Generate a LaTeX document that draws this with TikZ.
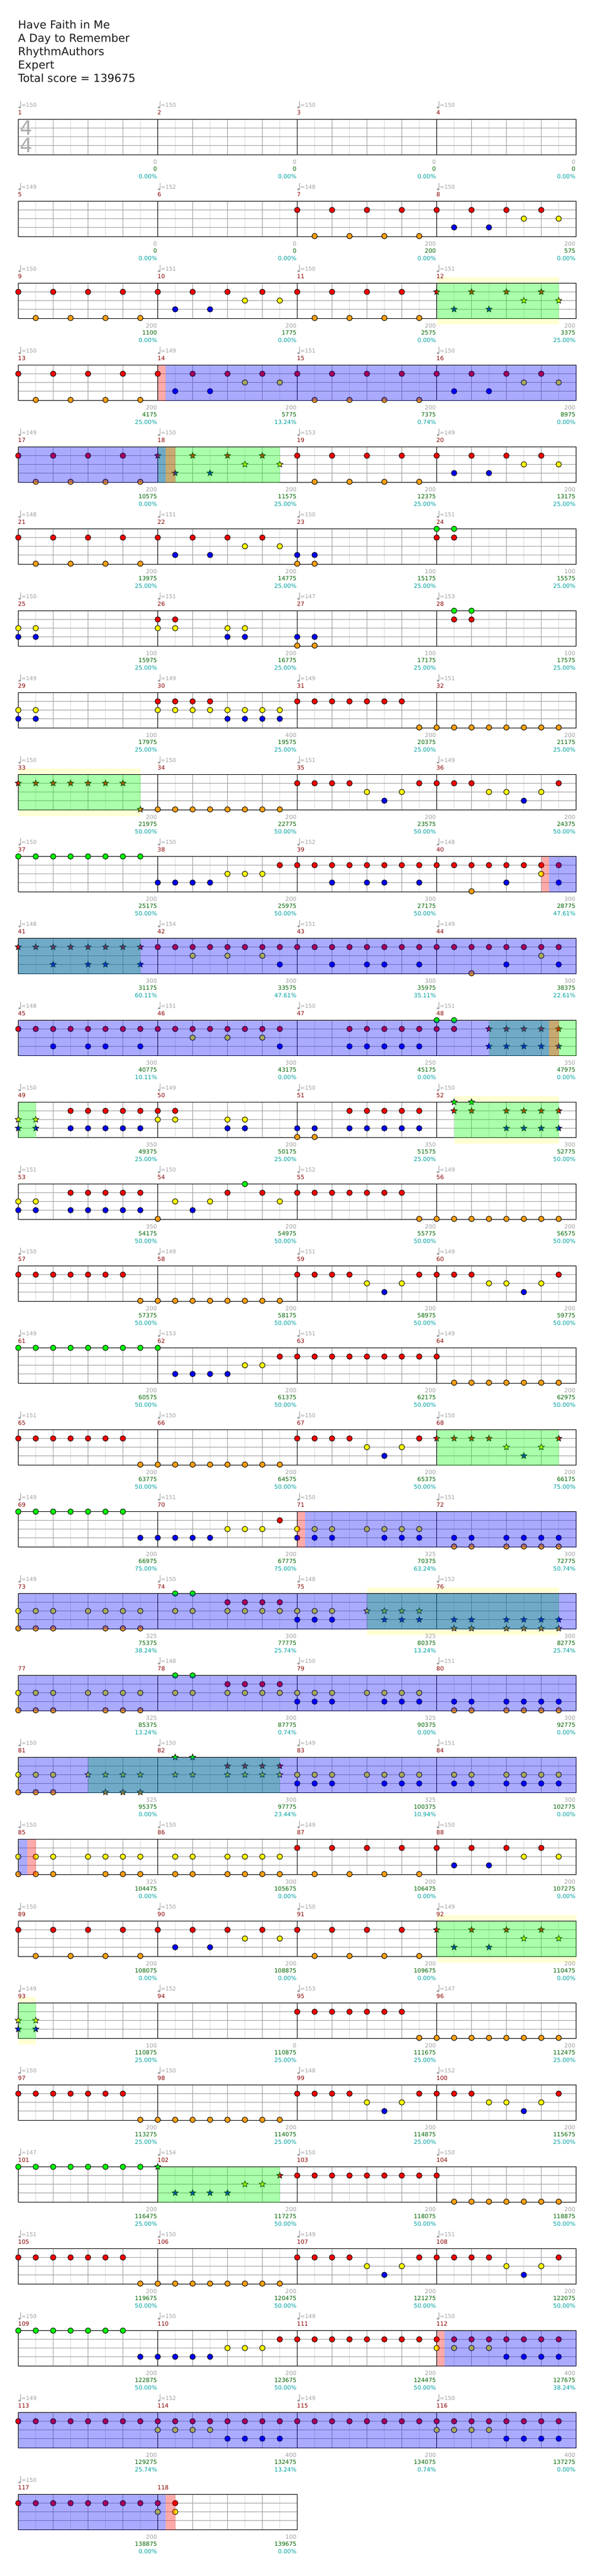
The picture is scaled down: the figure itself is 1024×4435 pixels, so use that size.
\documentclass[tikz,border=0pt]{standalone}
\usepackage{fontspec}
\setmainfont{DejaVu Sans}
\usetikzlibrary{shapes.geometric}

\definecolor{nred}{HTML}{FF0000}
\definecolor{ngreen}{HTML}{00FF00}
\definecolor{nyellow}{HTML}{FFFF00}
\definecolor{nblue}{HTML}{0000FF}
\definecolor{norange}{HTML}{FFA010}
\definecolor{glowfill}{HTML}{FFFFD5}
\definecolor{gridbeat}{HTML}{A0A0A0}
\definecolor{gridhalf}{HTML}{DCDCDC}
\definecolor{textgray}{HTML}{A0A0A0}
\definecolor{textbar}{HTML}{880000}
\definecolor{textscore}{HTML}{006400}
\definecolor{textpct}{HTML}{00A0A0}

\newcommand{\strnred}{15}
\newcommand{\strngreen}{0}
\newcommand{\strnyellow}{30}
\newcommand{\strnblue}{45}
\newcommand{\strnorange}{60}

\tikzset{
  notedot/.style={circle,draw=black,line width=0.9pt,minimum size=9.5pt,inner sep=0pt,outer sep=0pt},
  notestar/.style={star,star points=5,star point ratio=2.3,draw=black,line width=0.8pt,minimum size=11pt,inner sep=0pt,outer sep=0pt},
  smalltext/.style={inner sep=0pt,font=\fontsize{10}{12}\selectfont},
  tempotext/.style={smalltext,anchor=base west,text=textgray,font=\fontsize{9.5}{12}\selectfont},
  bartext/.style={smalltext,anchor=base west,text=textbar},
  ptstext/.style={smalltext,anchor=base east,text=textgray},
  scoretext/.style={smalltext,anchor=base east,text=textscore},
  pcttext/.style={smalltext,anchor=base east,text=textpct},
  timesig/.style={inner sep=0pt,text=black!33,font=\fontsize{34}{34}\selectfont},
  titletext/.style={inner sep=0pt,anchor=north west,align=left,text=black!90,font=\fontsize{19}{23}\selectfont}
}

\newcommand{\chartgrid}[2]{
  \fill[white] (31.5,{205.5+141*#1}) rectangle ({31.5+30*#2},{266.5+141*#1});
  \foreach \k in {1,3,...,#2} \draw[gridhalf,line width=1pt] ({31.5+30*\k},{205.5+141*#1}) -- ++(0,61);
  \foreach \k in {2,4,...,#2} \draw[gridbeat,line width=1pt] ({31.5+30*\k},{205.5+141*#1}) -- ++(0,61);
  \foreach \s in {15,30,45} \draw[gridbeat,line width=1pt] (31.5,{205.5+141*#1+\s}) -- ++({30*#2},0);
  \foreach \k in {8,16,...,#2} \draw[black,line width=1pt] ({31.5+30*\k},{205.5+141*#1}) -- ++(0,61);
  \draw[black,line width=1pt] (31.5,{205.5+141*#1}) rectangle ({31.5+30*#2},{266.5+141*#1});
}

\newcommand{\chartbars}[2]{
  \foreach \c/\tempo/\basepts/\score/\pct in {#2}{
    \pgfmathtruncatemacro{\mm}{4*#1+\c+1}
    \coordinate (b\mm) at ({31.5+240*\c},{205.5+141*#1});
    \coordinate (e\mm) at ({270.5+240*\c},{205.5+141*#1});
    \ifnum\tempo>0
      \fill[textgray] ([shift={(2.2,-20.5)}]b\mm) ellipse [x radius=2.2pt,y radius=1.7pt];
      \draw[textgray,line width=0.8pt] ([shift={(4,-20.5)}]b\mm) -- ++(0,-11);
      \node[tempotext] (tempo\mm) at ([shift={(5.2,-21)}]b\mm) {=\tempo};
    \fi
    \node[bartext] (bar\mm) at ([shift={(-0.5,-7.8)}]b\mm) {\mm};
    \node[ptstext] (pts\mm) at ([shift={(0,76.5)}]e\mm) {\basepts};
    \node[scoretext] (score\mm) at ([shift={(0,89.4)}]e\mm) {\score};
    \node[pcttext] (pct\mm) at ([shift={(0,102.3)}]e\mm) {\pct\%};
  }
}

\newcommand{\chartnotes}[3]{
  \foreach \k in {#3} \node[notedot,fill=#2] (n#1-#2-\k) at ({31.5+30*\k},{205.5+141*#1+\csname str#2\endcsname}) {};
}

\newcommand{\chartstars}[3]{
  \foreach \k in {#3} \node[notestar,fill=#2] (s#1-#2-\k) at ({31.5+30*\k},{205.5+141*#1+\csname str#2\endcsname}) {};
}

\newcommand{\chartband}[4]{
  \fill[#2,opacity=0.3333] ({31.5+30*#3},{205.5+141*#1}) rectangle ({31.5+30*#4},{266.5+141*#1});
}

\newcommand{\chartglow}[3]{
  \fill[glowfill] ({31.5+30*#2},{195+141*#1}) rectangle ({31.5+30*#3},{277+141*#1});
}

\begin{document}
\begin{tikzpicture}[x=1pt,y=-1pt]
  \useasboundingbox (0,0) rectangle (1024,4435);

  \node[titletext] (title) at (31,34.5) {Have Faith in Me\\A Day to Remember\\RhythmAuthors\\Expert\\Total score = 139675};

  \chartgrid{0}{32}
  \node[timesig] (sigtop) at (45,220.5) {4};
  \node[timesig] (sigbottom) at (45,250.5) {4};
  \chartbars{0}{0/150/0/0/0.00, 1/150/0/0/0.00, 2/150/0/0/0.00, 3/150/0/0/0.00}

  \chartgrid{1}{32}
  \chartbars{1}{0/149/0/0/0.00, 1/152/0/0/0.00, 2/148/200/200/0.00, 3/150/200/575/0.00}
  \chartnotes{1}{nred}{16,18,...,30}
  \chartnotes{1}{norange}{17,19,21,23}
  \chartnotes{1}{nblue}{25,27}
  \chartnotes{1}{nyellow}{29,31}

  \chartglow{2}{24}{31}
  \chartgrid{2}{32}
  \chartbars{2}{0/150/200/1100/0.00, 1/151/200/1775/0.00, 2/150/200/2575/0.00, 3/151/200/3375/25.00}
  \chartnotes{2}{nred}{0,2,...,22}
  \chartnotes{2}{norange}{1,3,5,7,17,19,21,23}
  \chartnotes{2}{nblue}{9,11}
  \chartnotes{2}{nyellow}{13,15}
  \chartstars{2}{nred}{24,26,28,30}
  \chartstars{2}{nblue}{25,27}
  \chartstars{2}{nyellow}{29,31}
  \chartband{2}{ngreen}{24}{31}

  \chartgrid{3}{32}
  \chartbars{3}{0/150/200/4175/25.00, 1/149/200/5775/13.24, 2/151/200/7375/0.74, 3/150/200/8975/0.00}
  \chartnotes{3}{nred}{0,2,...,30}
  \chartnotes{3}{norange}{1,3,5,7,17,19,21,23}
  \chartnotes{3}{nblue}{9,11,25,27}
  \chartnotes{3}{nyellow}{13,15,29,31}
  \chartband{3}{nred}{8}{8.45}
  \chartband{3}{nblue}{8.45}{32}

  \chartgrid{4}{32}
  \chartbars{4}{0/149/200/10575/0.00, 1/150/200/11575/25.00, 2/153/200/12375/25.00, 3/149/200/13175/25.00}
  \chartnotes{4}{nred}{0,2,4,6,16,18,...,30}
  \chartnotes{4}{norange}{1,3,5,7,17,19,21,23}
  \chartnotes{4}{nblue}{25,27}
  \chartnotes{4}{nyellow}{29,31}
  \chartstars{4}{nred}{8,10,12,14}
  \chartstars{4}{nblue}{9,11}
  \chartstars{4}{nyellow}{13,15}
  \chartband{4}{ngreen}{8}{15}
  \chartband{4}{nblue}{0}{8.45}
  \chartband{4}{nred}{8.45}{9}

  \chartgrid{5}{32}
  \chartbars{5}{0/148/200/13975/25.00, 1/151/200/14775/25.00, 2/150/100/15175/25.00, 3/151/100/15575/25.00}
  \chartnotes{5}{nred}{0,2,...,14,24,25}
  \chartnotes{5}{norange}{1,3,5,7,16,17}
  \chartnotes{5}{nblue}{9,11,16,17}
  \chartnotes{5}{nyellow}{13,15}
  \chartnotes{5}{ngreen}{24,25}

  \chartgrid{6}{32}
  \chartbars{6}{0/150/100/15975/25.00, 1/151/200/16775/25.00, 2/147/100/17175/25.00, 3/153/100/17575/25.00}
  \chartnotes{6}{nyellow}{0,1,8,9,12,13}
  \chartnotes{6}{nblue}{0,1,12,13,16,17}
  \chartnotes{6}{nred}{8,9,25,26}
  \chartnotes{6}{norange}{16,17}
  \chartnotes{6}{ngreen}{25,26}

  \chartgrid{7}{32}
  \chartbars{7}{0/149/100/17975/25.00, 1/149/400/19575/25.00, 2/149/200/20375/25.00, 3/151/200/21175/25.00}
  \chartnotes{7}{nyellow}{0,1,8,9,...,15}
  \chartnotes{7}{nblue}{0,1,12,13,14,15}
  \chartnotes{7}{nred}{8,9,10,11,16,17,...,22}
  \chartnotes{7}{norange}{23,24,...,31}

  \chartglow{8}{0}{7}
  \chartgrid{8}{32}
  \chartbars{8}{0/150/200/21975/50.00, 1/150/200/22775/50.00, 2/151/200/23575/50.00, 3/149/200/24375/50.00}
  \chartstars{8}{nred}{0,1,...,6}
  \chartstars{8}{norange}{7}
  \chartnotes{8}{norange}{8,9,...,15}
  \chartnotes{8}{nred}{16,17,18,19,23,24,25,26,31}
  \chartnotes{8}{nyellow}{20,22,27,28,30}
  \chartnotes{8}{nblue}{21,29}
  \chartband{8}{ngreen}{0}{7}

  \chartgrid{9}{32}
  \chartbars{9}{0/150/200/25175/50.00, 1/150/200/25975/50.00, 2/152/300/27175/50.00, 3/148/300/28775/47.61}
  \chartnotes{9}{ngreen}{0,1,...,7}
  \chartnotes{9}{nblue}{8,9,10,11,18,20,21,23,28,31}
  \chartnotes{9}{nyellow}{12,13,14,30}
  \chartnotes{9}{nred}{15,16,...,31}
  \chartnotes{9}{norange}{26}
  \chartband{9}{nred}{30}{30.45}
  \chartband{9}{nblue}{30.45}{32}

  \chartgrid{10}{32}
  \chartbars{10}{0/148/300/31175/60.11, 1/154/300/33575/47.61, 2/151/300/35975/35.11, 3/149/300/38375/22.61}
  \chartstars{10}{nred}{0,1,...,7}
  \chartstars{10}{nblue}{2,4,5,7}
  \chartnotes{10}{nred}{8,9,...,31}
  \chartnotes{10}{nyellow}{10,12,14,30}
  \chartnotes{10}{nblue}{15,18,20,21,23,28,31}
  \chartnotes{10}{norange}{26}
  \chartband{10}{ngreen}{0}{7}
  \chartband{10}{nblue}{0}{32}

  \chartgrid{11}{32}
  \chartbars{11}{0/148/300/40775/10.11, 1/151/300/43175/0.00, 2/150/250/45175/0.00, 3/151/350/47975/0.00}
  \chartnotes{11}{nred}{0,1,...,15,19,20,...,25}
  \chartnotes{11}{nblue}{2,4,5,7,15,19,20,21,22,23}
  \chartnotes{11}{nyellow}{10,12,14}
  \chartnotes{11}{ngreen}{24,25}
  \chartstars{11}{nred}{27,28,...,31}
  \chartstars{11}{nblue}{27,28,...,31}
  \chartband{11}{ngreen}{27}{32}
  \chartband{11}{nblue}{0}{30.45}
  \chartband{11}{nred}{30.45}{31}

  \chartglow{12}{25}{31}
  \chartgrid{12}{32}
  \chartbars{12}{0/150/350/49375/25.00, 1/149/200/50175/25.00, 2/150/350/51575/25.00, 3/150/300/52775/50.00}
  \chartstars{12}{nyellow}{0,1}
  \chartstars{12}{nblue}{0,1}
  \chartnotes{12}{nred}{3,4,...,9,19,20,...,23}
  \chartnotes{12}{nblue}{3,4,...,7,12,13,16,17,19,20,...,23}
  \chartnotes{12}{nyellow}{8,9,12,13}
  \chartnotes{12}{norange}{16,17}
  \chartstars{12}{ngreen}{25,26}
  \chartstars{12}{nred}{25,26,28,29,30,31}
  \chartstars{12}{nblue}{28,29,30,31}
  \chartband{12}{ngreen}{0}{1}
  \chartband{12}{ngreen}{25}{31}

  \chartgrid{13}{32}
  \chartbars{13}{0/151/350/54175/50.00, 1/150/200/54975/50.00, 2/152/200/55775/50.00, 3/149/200/56575/50.00}
  \chartnotes{13}{nyellow}{0,1,9,11,15}
  \chartnotes{13}{nblue}{0,1,3,4,5,6,7,10}
  \chartnotes{13}{nred}{3,4,5,6,7,12,14,16,17,...,22}
  \chartnotes{13}{norange}{8,23,24,...,31}
  \chartnotes{13}{ngreen}{13}

  \chartgrid{14}{32}
  \chartbars{14}{0/150/200/57375/50.00, 1/149/200/58175/50.00, 2/151/200/58975/50.00, 3/149/200/59775/50.00}
  \chartnotes{14}{nred}{0,1,...,6,16,17,18,19,23,24,25,26,31}
  \chartnotes{14}{norange}{7,8,...,15}
  \chartnotes{14}{nyellow}{20,22,27,28,30}
  \chartnotes{14}{nblue}{21,29}

  \chartgrid{15}{32}
  \chartbars{15}{0/149/200/60575/50.00, 1/153/200/61375/50.00, 2/151/200/62175/50.00, 3/149/200/62975/50.00}
  \chartnotes{15}{ngreen}{0,1,...,8}
  \chartnotes{15}{nblue}{9,10,11,12}
  \chartnotes{15}{nyellow}{13,14}
  \chartnotes{15}{nred}{15,16,...,24}
  \chartnotes{15}{norange}{25,26,...,31}

  \chartgrid{16}{32}
  \chartbars{16}{0/151/200/63775/50.00, 1/150/200/64575/50.00, 2/150/200/65375/50.00, 3/150/200/66175/75.00}
  \chartnotes{16}{nred}{0,1,...,6,16,17,18,19,23}
  \chartnotes{16}{norange}{7,8,...,15}
  \chartnotes{16}{nyellow}{20,22}
  \chartnotes{16}{nblue}{21}
  \chartstars{16}{nred}{24,25,26,27,31}
  \chartstars{16}{nyellow}{28,30}
  \chartstars{16}{nblue}{29}
  \chartband{16}{ngreen}{24}{31}

  \chartgrid{17}{32}
  \chartbars{17}{0/149/200/66975/75.00, 1/151/200/67775/75.00, 2/150/325/70375/63.24, 3/151/300/72775/50.74}
  \chartnotes{17}{ngreen}{0,1,...,6}
  \chartnotes{17}{nblue}{7,8,...,11,16,17,18,21,22,23,25,26,28,29,30,31}
  \chartnotes{17}{nyellow}{12,13,14,16,17,18,20,21,22,23}
  \chartnotes{17}{nred}{15}
  \chartnotes{17}{norange}{25,26,28,29,30,31}
  \chartband{17}{nred}{16}{16.45}
  \chartband{17}{nblue}{16.45}{32}

  \chartglow{18}{20}{31}
  \chartgrid{18}{32}
  \chartbars{18}{0/149/325/75375/38.24, 1/150/300/77775/25.74, 2/148/325/80375/13.24, 3/152/300/82775/25.74}
  \chartnotes{18}{nyellow}{0,1,2,4,5,6,7,9,10,12,13,14,15,16,17,18}
  \chartnotes{18}{norange}{0,1,2,5,6,7}
  \chartnotes{18}{ngreen}{9,10}
  \chartnotes{18}{nred}{12,13,14,15}
  \chartnotes{18}{nblue}{16,17,18}
  \chartstars{18}{nyellow}{20,21,22,23}
  \chartstars{18}{nblue}{21,22,23,25,26,28,29,30,31}
  \chartstars{18}{norange}{25,26,28,29,30,31}
  \chartband{18}{ngreen}{20}{31}
  \chartband{18}{nblue}{0}{32}

  \chartgrid{19}{32}
  \chartbars{19}{0/0/325/85375/13.24, 1/148/300/87775/0.74, 2/150/325/90375/0.00, 3/151/300/92775/0.00}
  \chartnotes{19}{nyellow}{0,1,2,4,5,6,7,9,10,12,13,14,15,16,17,18,20,21,22,23}
  \chartnotes{19}{norange}{0,1,2,5,6,7,25,26,28,29,30,31}
  \chartnotes{19}{ngreen}{9,10}
  \chartnotes{19}{nred}{12,13,14,15}
  \chartnotes{19}{nblue}{16,17,18,21,22,23,25,26,28,29,30,31}
  \chartband{19}{nblue}{0}{32}

  \chartgrid{20}{32}
  \chartbars{20}{0/150/325/95375/0.00, 1/150/300/97775/23.44, 2/149/325/100375/10.94, 3/151/300/102775/0.00}
  \chartnotes{20}{nyellow}{0,1,2,16,17,18,20,21,22,23,25,26,28,29,30,31}
  \chartnotes{20}{norange}{0,1,2}
  \chartstars{20}{nyellow}{4,5,6,7,9,10,12,13,14,15}
  \chartstars{20}{norange}{5,6,7}
  \chartstars{20}{ngreen}{9,10}
  \chartstars{20}{nred}{12,13,14,15}
  \chartnotes{20}{nblue}{16,17,18,21,22,23,25,26,28,29,30,31}
  \chartband{20}{ngreen}{4}{15}
  \chartband{20}{nblue}{0}{32}

  \chartgrid{21}{32}
  \chartbars{21}{0/150/325/104475/0.00, 1/150/300/105675/0.00, 2/149/200/106475/0.00, 3/150/200/107275/0.00}
  \chartnotes{21}{nyellow}{0,1,2,4,5,6,7,9,10,12,13,14,15,29,31}
  \chartnotes{21}{norange}{0,1,2,5,6,7,9,10,12,13,14,15,17,19,21,23}
  \chartnotes{21}{nred}{16,18,...,30}
  \chartnotes{21}{nblue}{25,27}
  \chartband{21}{nblue}{0}{0.5}
  \chartband{21}{nred}{0.5}{1}

  \chartglow{22}{24}{32}
  \chartgrid{22}{32}
  \chartbars{22}{0/150/200/108075/0.00, 1/150/200/108875/0.00, 2/150/200/109675/0.00, 3/149/200/110475/0.00}
  \chartnotes{22}{nred}{0,2,...,22}
  \chartnotes{22}{norange}{1,3,5,7,17,19,21,23}
  \chartnotes{22}{nblue}{9,11}
  \chartnotes{22}{nyellow}{13,15}
  \chartstars{22}{nred}{24,26,28,30}
  \chartstars{22}{nblue}{25,27}
  \chartstars{22}{nyellow}{29,31}
  \chartband{22}{ngreen}{24}{32}

  \chartglow{23}{0}{1}
  \chartgrid{23}{32}
  \chartbars{23}{0/149/100/110875/25.00, 1/152/0/110875/25.00, 2/153/200/111675/25.00, 3/147/200/112475/25.00}
  \chartstars{23}{nyellow}{0,1}
  \chartstars{23}{nblue}{0,1}
  \chartnotes{23}{nred}{16,17,...,22}
  \chartnotes{23}{norange}{23,24,...,31}
  \chartband{23}{ngreen}{0}{1}

  \chartgrid{24}{32}
  \chartbars{24}{0/150/200/113275/25.00, 1/150/200/114075/25.00, 2/148/200/114875/25.00, 3/152/200/115675/25.00}
  \chartnotes{24}{nred}{0,1,...,6,16,17,18,19,23,24,25,26,31}
  \chartnotes{24}{norange}{7,8,...,15}
  \chartnotes{24}{nyellow}{20,22,27,28,30}
  \chartnotes{24}{nblue}{21,29}

  \chartgrid{25}{32}
  \chartbars{25}{0/147/200/116475/25.00, 1/154/200/117275/50.00, 2/150/200/118075/50.00, 3/150/200/118875/50.00}
  \chartnotes{25}{ngreen}{0,1,...,7}
  \chartstars{25}{ngreen}{8}
  \chartstars{25}{nblue}{9,10,11,12}
  \chartstars{25}{nyellow}{13,14}
  \chartstars{25}{nred}{15}
  \chartnotes{25}{nred}{16,17,...,24}
  \chartnotes{25}{norange}{25,26,...,31}
  \chartband{25}{ngreen}{8}{15}

  \chartgrid{26}{32}
  \chartbars{26}{0/151/200/119675/50.00, 1/150/200/120475/50.00, 2/149/200/121275/50.00, 3/151/200/122075/50.00}
  \chartnotes{26}{nred}{0,1,...,6,16,17,18,19,23,24,25,26,27,31}
  \chartnotes{26}{norange}{7,8,...,15}
  \chartnotes{26}{nyellow}{20,22,28,30}
  \chartnotes{26}{nblue}{21,29}

  \chartgrid{27}{32}
  \chartbars{27}{0/150/200/122875/50.00, 1/150/200/123675/50.00, 2/149/200/124475/50.00, 3/150/400/127675/38.24}
  \chartnotes{27}{ngreen}{0,1,...,6}
  \chartnotes{27}{nblue}{7,8,...,11,28,29,30,31}
  \chartnotes{27}{nyellow}{12,13,14,24,25,26,27}
  \chartnotes{27}{nred}{15,16,...,31}
  \chartband{27}{nred}{24}{24.45}
  \chartband{27}{nblue}{24.45}{32}

  \chartgrid{28}{32}
  \chartbars{28}{0/149/200/129275/25.74, 1/152/400/132475/13.24, 2/149/200/134075/0.74, 3/150/400/137275/0.00}
  \chartnotes{28}{nred}{0,1,...,31}
  \chartnotes{28}{nyellow}{8,9,10,11,24,25,26,27}
  \chartnotes{28}{nblue}{12,13,14,15,28,29,30,31}
  \chartband{28}{nblue}{0}{32}

  \chartgrid{29}{16}
  \chartbars{29}{0/150/200/138875/0.00, 1/0/100/139675/0.00}
  \chartnotes{29}{nred}{0,1,...,9}
  \chartnotes{29}{nyellow}{8,9}
  \chartband{29}{nblue}{0}{8.45}
  \chartband{29}{nred}{8.45}{9}
\end{tikzpicture}
\end{document}
